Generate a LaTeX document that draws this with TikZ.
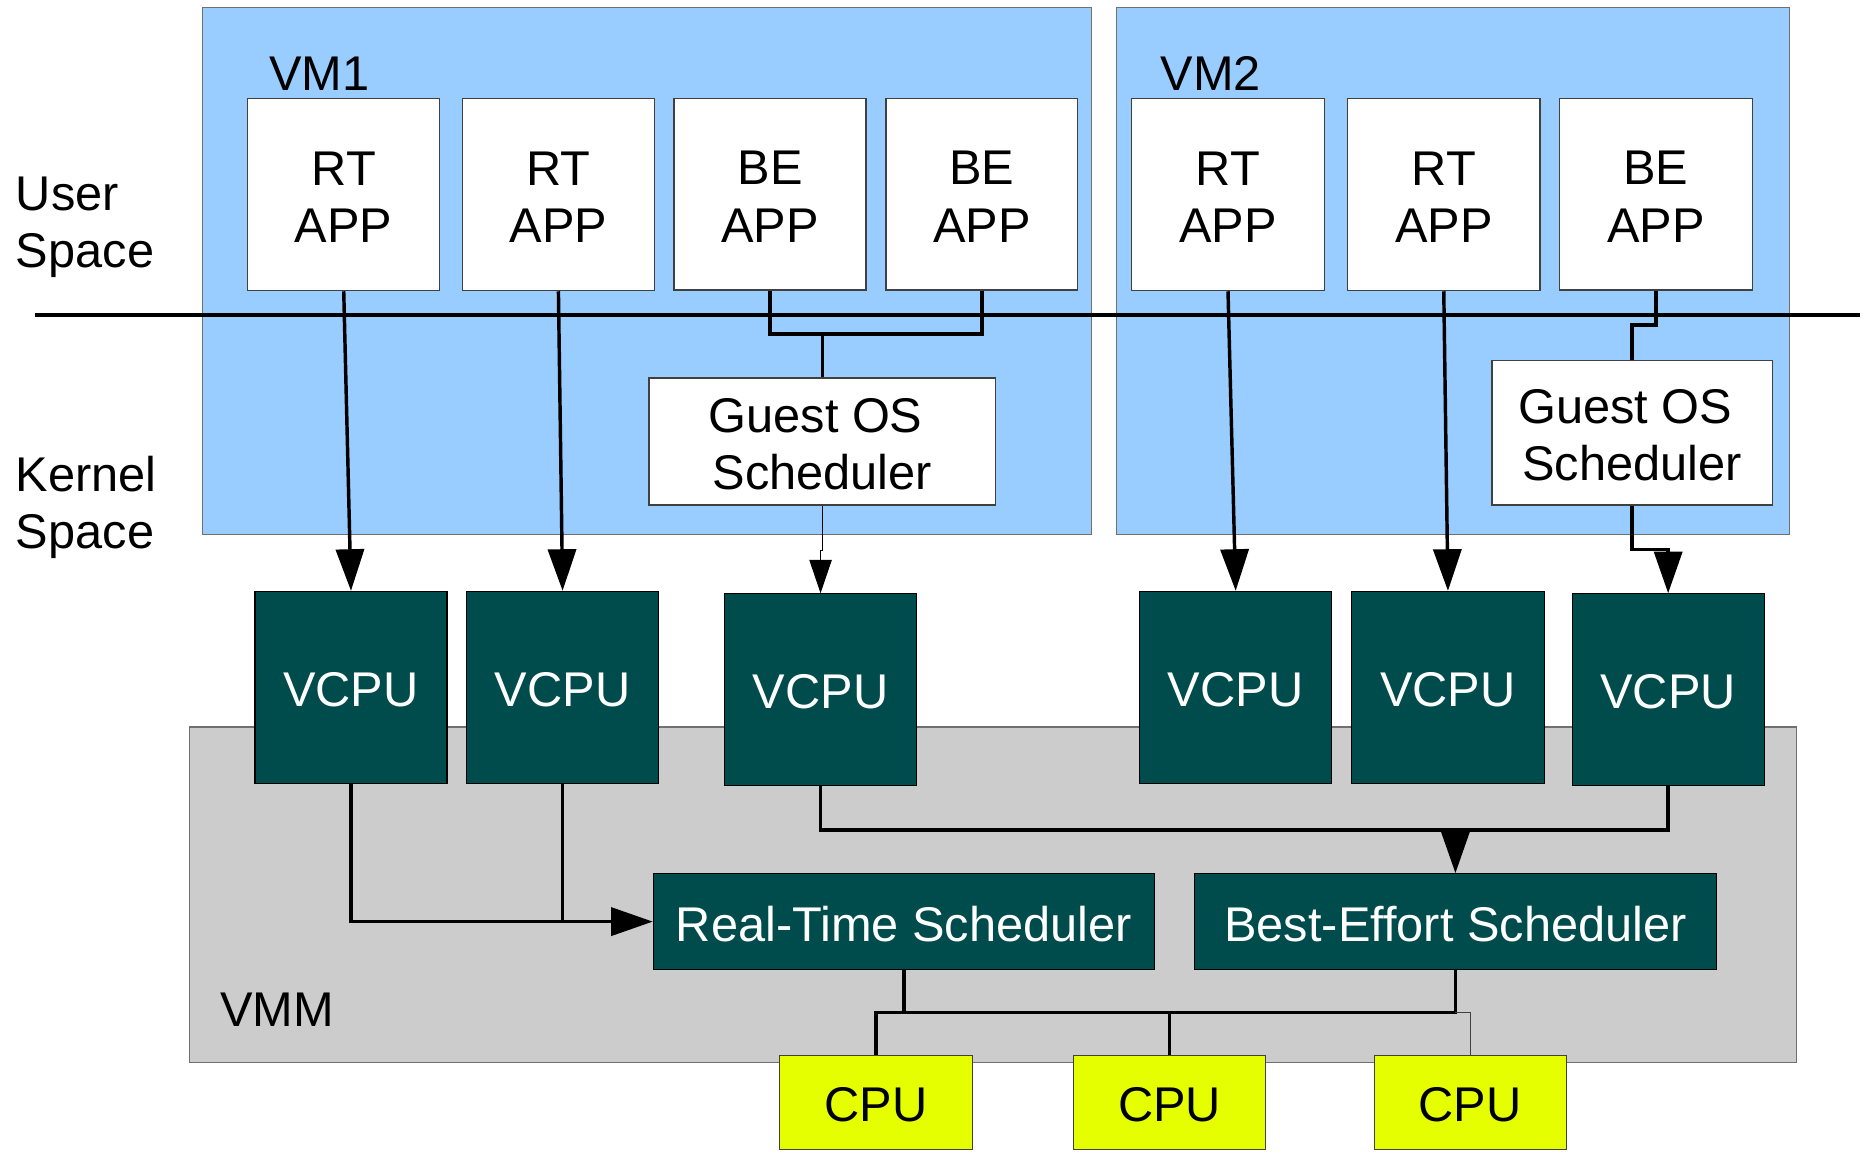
\documentclass[tikz,border=0pt]{standalone}
\usepackage{fontspec}
\setmainfont{Liberation Sans}
\usetikzlibrary{arrows.meta,calc}

\definecolor{vmblue}{HTML}{99CCFF}
\definecolor{vmmgray}{HTML}{CCCCCC}
\definecolor{vteal}{HTML}{004C4C}
\definecolor{cpuyellow}{HTML}{E6FF00}
\definecolor{edgegray}{HTML}{707070}
\definecolor{edgedark}{HTML}{404040}

\tikzset{
  txt/.style={font=\fontsize{20.5}{24}\selectfont},
  region/.style={draw=edgegray, line width=0.5pt, inner sep=0pt},
  vmregion/.style={region, fill=vmblue},
  vmmregion/.style={region, fill=vmmgray},
  appbox/.style={txt, fill=white, draw=edgedark, line width=0.5pt, inner sep=0pt, align=center},
  vcpubox/.style={txt, fill=vteal, draw=black, text=white, line width=0.5pt, inner sep=0pt, align=center},
  cpubox/.style={txt, fill=cpuyellow, draw=edgedark, line width=0.5pt, inner sep=0pt, align=center},
  boxtext/.style={draw=none, fill=none, minimum width=0pt, minimum height=0pt},
  lbl/.style={txt, anchor=west, inner sep=0pt, align=left},
  wire/.style={line width=1.45pt, line join=miter},
  thinwire/.style={line width=0.45pt},
  arr/.style={wire, -{Triangle[length=17.5pt 0 0, width=11.8pt 0 0]}},
  thinarr/.style={thinwire, -{Triangle[length=14pt 0 0, width=9.4pt 0 0]}},
  divider/.style={line width=1.8pt},
}

% a box given by its two corners (picture units): style, name, x1, y1, x2, y2, text;
% the text sits in its own node, a little below the box centre
\newcommand\boxnode[7]{%
  \node[#1, minimum width={(#5-#3)*0.5pt}, minimum height={(#6-#4)*0.5pt}]
    (#2) at ({(#3+#5)/2},{(#4+#6)/2}) {};
  \node[#1, boxtext] (#2-text) at ($(#2.center)+(0,2)$) {#7};}

\begin{document}
\begin{tikzpicture}[x=0.5pt, y=-0.5pt]
\useasboundingbox (0,0) rectangle (1568,970);

% virtual machines and the hypervisor layer
\node[vmregion, minimum width=374pt, minimum height=221.5pt] (vm1) at (544,228) {};
\node[vmregion, minimum width=283pt, minimum height=221.5pt] (vm2) at (1222,228) {};
\node[vmmregion, minimum width=676pt, minimum height=141pt] (vmm) at (835.5,752.5) {};

\node[lbl] (vm1lbl) at (226,62) {VM1};
\node[lbl] (vm2lbl) at (976,62) {VM2};
\node[lbl] (vmmlbl) at (185,849) {VMM};

% user / kernel space boundary
\coordinate (divL) at (29.5,265);
\coordinate (divR) at (1565,265);
\draw[divider] (divL) -- (divR);

\node[lbl] (user) at (13,191) {User\\Space};
\node[lbl] (kernel) at (13,427) {Kernel\\Space};

% applications
\boxnode{appbox}{a1}{208.3}{83}{370}{244.5}{RT\\APP}
\boxnode{appbox}{a2}{389}{83}{550.5}{244.5}{RT\\APP}
\boxnode{appbox}{a3}{567}{83}{728.5}{244}{BE\\APP}
\boxnode{appbox}{a4}{745.3}{83}{906.5}{244}{BE\\APP}
\boxnode{appbox}{a5}{952}{83}{1114}{244.5}{RT\\APP}
\boxnode{appbox}{a6}{1133.5}{83}{1295.5}{244.5}{RT\\APP}
\boxnode{appbox}{a7}{1312}{83}{1474}{244}{BE\\APP}

% guest schedulers
\boxnode{appbox}{g1}{546}{318}{837.4}{424.8}{Guest OS\hspace*{0.278em}\\Scheduler}
\boxnode{appbox}{g2}{1255}{303.5}{1491}{424.8}{Guest OS\hspace*{0.278em}\\Scheduler}

% virtual CPUs
\boxnode{vcpubox}{v1}{214.5}{497.5}{376}{659}{VCPU}
\boxnode{vcpubox}{v2}{392.5}{497.5}{554}{659}{VCPU}
\boxnode{vcpubox}{v3}{609.5}{499.5}{771}{661}{VCPU}
\boxnode{vcpubox}{v4}{958.6}{497.5}{1120.3}{659}{VCPU}
\boxnode{vcpubox}{v5}{1137}{497.5}{1299}{659}{VCPU}
\boxnode{vcpubox}{v6}{1322.5}{499.5}{1484}{661}{VCPU}

% hypervisor schedulers
\boxnode{vcpubox}{rt}{549.6}{735}{971}{815.5}{Real-Time Scheduler}
\boxnode{vcpubox}{be}{1004.6}{735}{1444}{815.5}{Best-Effort Scheduler}

% physical CPUs
\boxnode{cpubox}{c1}{656}{888}{818}{967}{CPU}
\boxnode{cpubox}{c2}{903}{888}{1064.5}{967}{CPU}
\boxnode{cpubox}{c3}{1156}{888}{1317.5}{967}{CPU}

% VM1 connections
\draw[arr] (a1.south) -- (v1.north);
\draw[arr] (a2.south) -- (v2.north);
\coordinate (bej1) at (0,281);
\draw[wire] (a3.south) |- (bej1 -| a4.south) -- (a4.south);
\draw[wire] (g1.north) -- (g1.north |- bej1);
\draw[thinarr] (g1.south) -- ++(0,37.5) -| (v3.north);

% VM2 connections
\draw[arr] (a5.south) -- (v4.north);
\draw[arr] (a6.south) -- (v5.north);
\draw[wire] (a7.south) -- ++(0,28.8) -| (g2.north);
\draw[arr] (g2.south) -- ++(0,37) -| (v6.north);

% VCPUs to hypervisor schedulers
\draw[arr] (v1.south) |- (rt.west);
\draw[wire] (v2.south) -- (v2.south |- rt.west);
\draw[wire] (v3.south) -- ++(0,36.5) coordinate (bj) -| (v6.south);
\draw[arr] (be.north |- bj) -- (be.north);

% schedulers to physical CPUs
\draw[wire] (rt.south) -- ++(0,35.5) coordinate (cj);
\draw[wire] (be.south) -- (be.south |- cj) -- (c1.north |- cj) -- (c1.north);
\draw[wire] (c2.north) -- (c2.north |- cj);
\draw[thinwire, draw=edgedark] (be.south |- cj) -| (c3.north);
\end{tikzpicture}
\end{document}
